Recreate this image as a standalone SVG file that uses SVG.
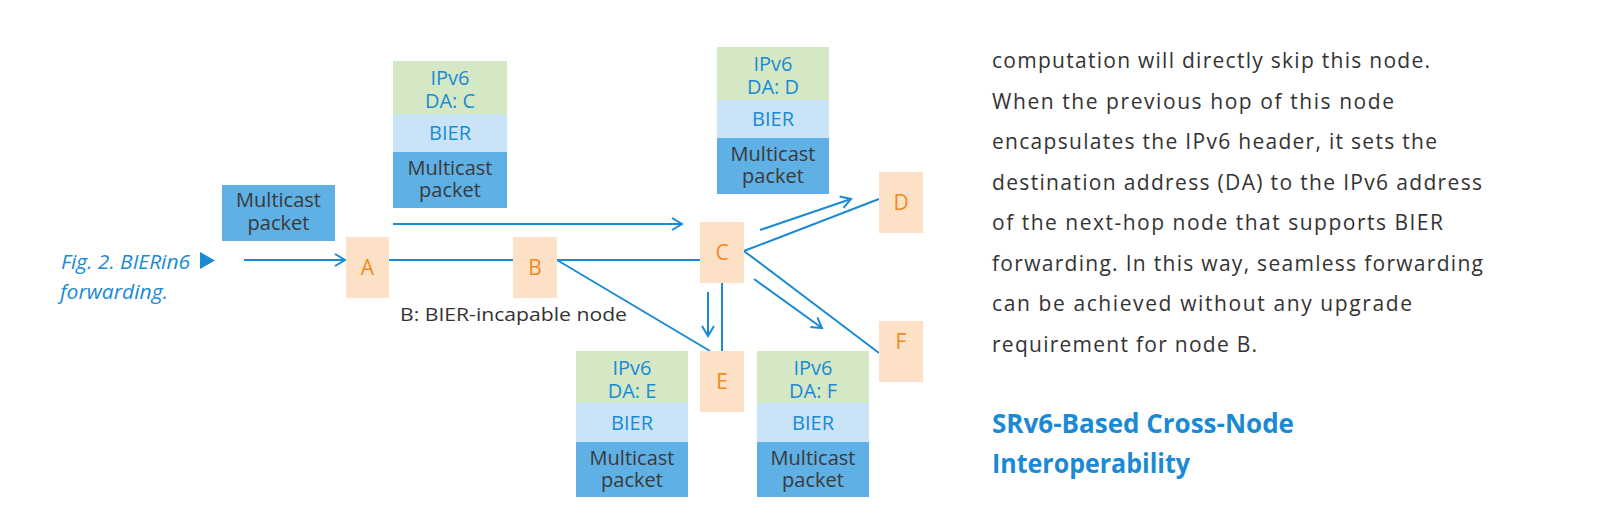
<svg xmlns="http://www.w3.org/2000/svg" width="1600" height="529" viewBox="0 0 1600 529">
<defs>
<marker id="arr" markerUnits="userSpaceOnUse" markerWidth="16" markerHeight="16" viewBox="0 0 16 16" refX="14" refY="8" orient="auto">
<path d="M4,2 L14,8 L4,14" fill="none" stroke="#1a8ad4" stroke-width="2"/>
</marker>
<style>
.node{fill:#fde1c7}
.nl{font-family:"Open Sans","Noto Sans",sans-serif;font-size:21px;fill:#f08a1c;text-anchor:middle}
.g{fill:#d5e8c5}
.lb{fill:#c9e4f6}
.db{fill:#5eb0e5}
.bt{font-family:"Open Sans","Noto Sans",sans-serif;font-size:20px;fill:#1a8ad4;text-anchor:middle}
.dt{font-family:"Open Sans","Noto Sans",sans-serif;font-size:20px;fill:#3a3a3a;text-anchor:middle}
.ln{stroke:#1a8ad4;stroke-width:2;fill:none}
.body{font-family:"Open Sans","Noto Sans",sans-serif;font-size:21px;fill:#333}
.head{font-family:"Open Sans","Noto Sans",sans-serif;font-size:26px;font-weight:bold;fill:#1a8ad4}
.cap{font-family:"Open Sans","Noto Sans",sans-serif;font-size:20px;font-style:italic;fill:#1a8ad4}
</style>
</defs>
<rect width="1600" height="529" fill="#fff"/>

<g id="caption">
<text class="cap" x="61" y="269" textLength="129" lengthAdjust="spacingAndGlyphs">Fig. 2. BIERin6</text>
<path d="M200,252 L215,260.5 L200,269 Z" fill="#1a8ad4"/>
<text class="cap" x="60" y="299" textLength="108" lengthAdjust="spacingAndGlyphs">forwarding.</text>
</g>

<g id="connectors">
<line class="ln" x1="244" y1="260" x2="345" y2="260" marker-end="url(#arr)"/>
<line class="ln" x1="389" y1="260" x2="513" y2="260"/>
<line class="ln" x1="557" y1="260" x2="700" y2="260"/>
<line class="ln" x1="393" y1="224" x2="682" y2="224" marker-end="url(#arr)"/>
<line class="ln" x1="557" y1="260" x2="710" y2="351"/>
<line class="ln" x1="744" y1="251" x2="879" y2="199"/>
<line class="ln" x1="760" y1="230" x2="851" y2="199" marker-end="url(#arr)"/>
<line class="ln" x1="744" y1="251" x2="879" y2="353"/>
<line class="ln" x1="754" y1="279" x2="822" y2="328" marker-end="url(#arr)"/>
<line class="ln" x1="722" y1="283" x2="722" y2="351"/>
<line class="ln" x1="708" y1="292" x2="708" y2="336" marker-end="url(#arr)"/>
</g>

<g id="pkt-in">
<rect class="db" x="222" y="185" width="113" height="56"/>
<text class="dt" x="278.5" y="207">Multicast</text>
<text class="dt" x="278.5" y="230">packet</text>
</g>

<g id="stack-c">
<rect class="g" x="393" y="61" width="114" height="53"/>
<rect class="lb" x="393" y="114" width="114" height="38"/>
<rect class="db" x="393" y="152" width="114" height="56"/>
<text class="bt" x="450" y="85">IPv6</text>
<text class="bt" x="450" y="108">DA: C</text>
<text class="bt" x="450" y="140">BIER</text>
<text class="dt" x="450" y="175">Multicast</text>
<text class="dt" x="450" y="197">packet</text>
</g>

<g id="stack-d">
<rect class="g" x="717" y="47" width="112" height="53"/>
<rect class="lb" x="717" y="100" width="112" height="38"/>
<rect class="db" x="717" y="138" width="112" height="56"/>
<text class="bt" x="773" y="71">IPv6</text>
<text class="bt" x="773" y="94">DA: D</text>
<text class="bt" x="773" y="126">BIER</text>
<text class="dt" x="773" y="161">Multicast</text>
<text class="dt" x="773" y="183">packet</text>
</g>

<g id="stack-e">
<rect class="g" x="576" y="351" width="112" height="52"/>
<rect class="lb" x="576" y="403" width="112" height="39"/>
<rect class="db" x="576" y="442" width="112" height="55"/>
<text class="bt" x="632" y="375">IPv6</text>
<text class="bt" x="632" y="398">DA: E</text>
<text class="bt" x="632" y="430">BIER</text>
<text class="dt" x="632" y="465">Multicast</text>
<text class="dt" x="632" y="487">packet</text>
</g>

<g id="stack-f">
<rect class="g" x="757" y="351" width="112" height="52"/>
<rect class="lb" x="757" y="403" width="112" height="39"/>
<rect class="db" x="757" y="442" width="112" height="55"/>
<text class="bt" x="813" y="375">IPv6</text>
<text class="bt" x="813" y="398">DA: F</text>
<text class="bt" x="813" y="430">BIER</text>
<text class="dt" x="813" y="465">Multicast</text>
<text class="dt" x="813" y="487">packet</text>
</g>

<g id="node-a"><rect class="node" x="346" y="237" width="43" height="61"/><text class="nl" x="367.5" y="275">A</text></g>
<g id="node-b"><rect class="node" x="513" y="237" width="44" height="61"/><text class="nl" x="535" y="275">B</text></g>
<g id="node-c"><rect class="node" x="700" y="222" width="44" height="61"/><text class="nl" x="722" y="260">C</text></g>
<g id="node-d"><rect class="node" x="879" y="172" width="44" height="61"/><text class="nl" x="901" y="210">D</text></g>
<g id="node-e"><rect class="node" x="700" y="351" width="44" height="61"/><text class="nl" x="722" y="389">E</text></g>
<g id="node-f"><rect class="node" x="879" y="321" width="44" height="61"/><text class="nl" x="901" y="349">F</text></g>

<g id="b-label">
<text class="body" x="400" y="321" font-size="19" textLength="227" lengthAdjust="spacingAndGlyphs" style="font-size:19px">B: BIER-incapable node</text>
</g>

<g id="body-text">
<text class="body" x="992" y="68" textLength="438" lengthAdjust="spacing">computation will directly skip this node.</text>
<text class="body" x="992" y="109" textLength="402" lengthAdjust="spacing">When the previous hop of this node</text>
<text class="body" x="992" y="149" textLength="445" lengthAdjust="spacing">encapsulates the IPv6 header, it sets the</text>
<text class="body" x="992" y="190" textLength="490" lengthAdjust="spacing">destination address (DA) to the IPv6 address</text>
<text class="body" x="992" y="230" textLength="451" lengthAdjust="spacing">of the next-hop node that supports BIER</text>
<text class="body" x="992" y="271" textLength="491" lengthAdjust="spacing">forwarding. In this way, seamless forwarding</text>
<text class="body" x="992" y="311" textLength="420" lengthAdjust="spacing">can be achieved without any upgrade</text>
<text class="body" x="992" y="352" textLength="265" lengthAdjust="spacing">requirement for node B.</text>
<text class="head" x="992" y="433" textLength="302" lengthAdjust="spacingAndGlyphs">SRv6-Based Cross-Node</text>
<text class="head" x="992" y="473" textLength="198" lengthAdjust="spacingAndGlyphs">Interoperability</text>
</g>
</svg>
